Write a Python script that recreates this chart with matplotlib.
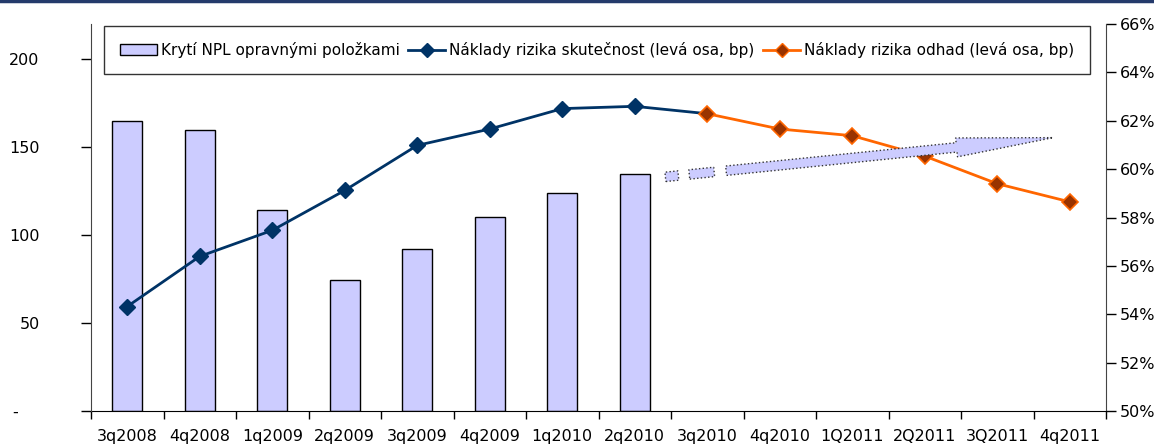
import matplotlib.pyplot as plt
import numpy as np
from matplotlib.lines import Line2D
from matplotlib.patches import Patch, Polygon
from matplotlib.transforms import IdentityTransform

plt.rcParams['font.family'] = ['DejaVu Sans']

quarters = ['3q2008', '4q2008', '1q2009', '2q2009', '3q2009', '4q2009', '1q2010',
            '2q2010', '3q2010', '4q2010', '1Q2011', '2Q2011', '3Q2011', '4q2011']
coverage_pct = [62.0, 61.6, 58.3, 55.4, 56.7, 58.0, 59.0, 59.8]
cost_actual = [59.4, 87.9, 102.7, 125.4, 151.0, 160.3, 171.9, 173.2]
cost_forecast = [169.0, 160.3, 156.5, 144.9, 129.2, 118.9]
left_ticks = [0, 50, 100, 150, 200]
left_labels = ['-    ', '50', '100', '150', '200']
right_ticks = [50, 52, 54, 56, 58, 60, 62, 64, 66]

label_bars = 'Krytí NPL opravnými položkami'
label_actual = 'Náklady rizika skutečnost (levá osa, bp)'
label_forecast = 'Náklady rizika odhad (levá osa, bp)'

navy = '#003366'
orange = '#ff6600'
brown = '#993300'
lavender = '#ccccff'
fs = 11.5

W, H = 1154, 448
fig = plt.figure(figsize=(W / 100, H / 100), dpi=100)
ax_l, ax_r, ax_b, ax_t = 91, 1106, 411, 24
ax2 = fig.add_axes([ax_l / W, 1 - ax_b / H, (ax_r - ax_l) / W, (ax_b - ax_t) / H])
ax = ax2.twinx()
ax.yaxis.tick_left()
ax.yaxis.set_label_position('left')
ax2.yaxis.tick_right()
ax.set_zorder(ax2.get_zorder() + 1)
ax.patch.set_visible(False)

x = np.arange(len(quarters))
n_act = len(cost_actual)

# bars on the percentage (right) axis
ax2.bar(x[:len(coverage_pct)], np.array(coverage_pct) - 50, bottom=50, width=0.41,
        color=lavender, edgecolor='black', linewidth=1.0, zorder=2)
ax2.set_ylim(50, 66)
ax2.set_yticks(right_ticks)
ax2.set_yticklabels([f'{v}%' for v in right_ticks])

# cost of risk lines on the left axis
act_line = cost_actual + [cost_forecast[0]]
ax.plot(x[:n_act + 1], act_line, color=navy, lw=2.0, marker='D', ms=8,
        markevery=list(range(n_act)), zorder=3)
ax.plot(x[n_act:n_act + len(cost_forecast)], cost_forecast, color=orange, lw=2.0,
        marker='D', ms=8, mfc=brown, mec=orange, mew=1.2, zorder=4)
ax.set_ylim(0, 220)
ax.set_yticks(left_ticks)
ax.set_yticklabels(left_labels)
ax.set_xlim(-0.5, len(quarters) - 0.5)

# category boundaries as tick marks, labels in the middle
ax2.set_xticks(np.arange(-0.5, len(quarters)), minor=False)
ax2.set_xticklabels([])
ax2.set_xticks(x, minor=True)
ax2.set_xticklabels(quarters, minor=True)
ax2.tick_params(axis='x', which='major', direction='out', length=6, width=1)
ax2.tick_params(axis='x', which='minor', length=0, pad=13, labelsize=fs)

ax.tick_params(axis='y', direction='out', length=7, width=1, pad=30, labelsize=fs)
ax2.tick_params(axis='y', direction='out', length=7, width=1, pad=3, labelsize=fs)

for a in (ax, ax2):
    a.spines['top'].set_visible(False)
ax.spines['right'].set_visible(False)
ax.spines['bottom'].set_visible(False)
ax2.spines['left'].set_visible(False)
ax2.spines['right'].set_color('#444444')
ax.spines['left'].set_color('#444444')

# legend
handles = [
    Patch(facecolor=lavender, edgecolor='black', linewidth=1.0),
    Line2D([], [], color=navy, lw=2, marker='D', ms=7),
    Line2D([], [], color=orange, lw=2, marker='D', ms=7, mfc=brown, mec=orange),
]
leg = ax.legend(handles, [label_bars, label_actual, label_forecast], ncol=3,
                loc='upper left', bbox_to_anchor=(0.0128, 0.5, 0.9714, 0.4948),
                mode='expand', fontsize=11, frameon=True, fancybox=False,
                handlelength=2.4, handletextpad=0.25, borderaxespad=0,
                borderpad=1.05, columnspacing=0.8)
leg.get_frame().set_edgecolor('black')
leg.get_frame().set_linewidth(1.0)

# trend arrow (in display pixels, anchored to data points)
start = ax.transData.transform((8.26, 136.6))
tip = ax.transData.transform((12.77, 155.4))
u = (tip - start) / np.hypot(*(tip - start))
nrm = np.array([-u[1], u[0]])
L = np.hypot(*(tip - start))
head_len, head_w, body_w = 97, 9.5, 4.7


def seg(t0, t1):
    return [start + u * t0 - nrm * body_w, start + u * t1 - nrm * body_w,
            start + u * t1 + nrm * body_w, start + u * t0 + nrm * body_w]


base = L - head_len
pieces = [seg(-61, -48), seg(-37, -12),
          [start - nrm * body_w, start + u * base - nrm * body_w,
           start + u * base - nrm * head_w, tip,
           start + u * base + nrm * head_w, start + u * base + nrm * body_w,
           start + nrm * body_w]]
for pts in pieces:
    ax.add_patch(Polygon(pts, closed=True, facecolor=lavender, edgecolor='#333333',
                         linestyle=':', linewidth=1.0, transform=IdentityTransform(),
                         zorder=6))

# frame line along the top edge
fig.add_artist(Line2D([0, 1], [1 - 1.5 / H, 1 - 1.5 / H], color='#243a6b', lw=2.5))

fig.savefig('out.png', dpi=100)
